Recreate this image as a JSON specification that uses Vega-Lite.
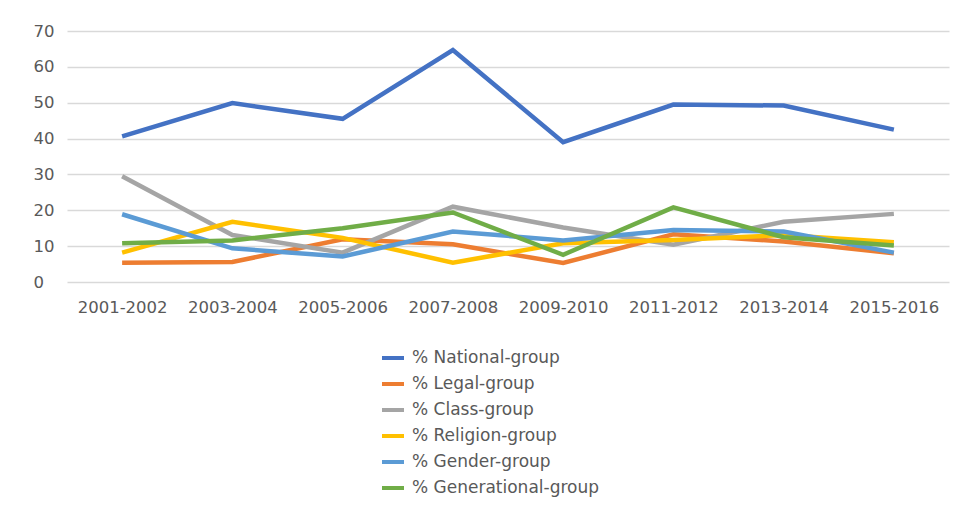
{
  "$schema": "https://vega.github.io/schema/vega-lite/v6.json",
  "autosize": {"type": "none"},
  "padding": {"left": 67, "top": 31, "right": 11, "bottom": 235},
  "width": 882,
  "height": 251,
  "background": "white",
  "config": {
    "view": {"stroke": null},
    "font": "DejaVu Sans",
    "axis": {"labelFont": "DejaVu Sans", "labelColor": "#595959", "labelFontSize": 16.5}
  },
  "data": {"values": [
    {"period": "2001-2002", "series": "% National-group", "value": 40.6},
    {"period": "2003-2004", "series": "% National-group", "value": 49.9},
    {"period": "2005-2006", "series": "% National-group", "value": 45.5},
    {"period": "2007-2008", "series": "% National-group", "value": 64.7},
    {"period": "2009-2010", "series": "% National-group", "value": 39.0},
    {"period": "2011-2012", "series": "% National-group", "value": 49.5},
    {"period": "2013-2014", "series": "% National-group", "value": 49.2},
    {"period": "2015-2016", "series": "% National-group", "value": 42.5},
    {"period": "2001-2002", "series": "% Legal-group", "value": 5.4},
    {"period": "2003-2004", "series": "% Legal-group", "value": 5.6},
    {"period": "2005-2006", "series": "% Legal-group", "value": 11.9},
    {"period": "2007-2008", "series": "% Legal-group", "value": 10.5},
    {"period": "2009-2010", "series": "% Legal-group", "value": 5.3},
    {"period": "2011-2012", "series": "% Legal-group", "value": 13.3},
    {"period": "2013-2014", "series": "% Legal-group", "value": 11.3},
    {"period": "2015-2016", "series": "% Legal-group", "value": 8.0},
    {"period": "2001-2002", "series": "% Class-group", "value": 29.5},
    {"period": "2003-2004", "series": "% Class-group", "value": 13.1},
    {"period": "2005-2006", "series": "% Class-group", "value": 8.2},
    {"period": "2007-2008", "series": "% Class-group", "value": 21.0},
    {"period": "2009-2010", "series": "% Class-group", "value": 15.2},
    {"period": "2011-2012", "series": "% Class-group", "value": 10.4},
    {"period": "2013-2014", "series": "% Class-group", "value": 16.8},
    {"period": "2015-2016", "series": "% Class-group", "value": 19.0},
    {"period": "2001-2002", "series": "% Religion-group", "value": 8.2},
    {"period": "2003-2004", "series": "% Religion-group", "value": 16.8},
    {"period": "2005-2006", "series": "% Religion-group", "value": 12.3},
    {"period": "2007-2008", "series": "% Religion-group", "value": 5.4},
    {"period": "2009-2010", "series": "% Religion-group", "value": 10.8},
    {"period": "2011-2012", "series": "% Religion-group", "value": 11.7},
    {"period": "2013-2014", "series": "% Religion-group", "value": 13.1},
    {"period": "2015-2016", "series": "% Religion-group", "value": 11.1},
    {"period": "2001-2002", "series": "% Gender-group", "value": 18.9},
    {"period": "2003-2004", "series": "% Gender-group", "value": 9.4},
    {"period": "2005-2006", "series": "% Gender-group", "value": 7.1},
    {"period": "2007-2008", "series": "% Gender-group", "value": 14.1},
    {"period": "2009-2010", "series": "% Gender-group", "value": 11.6},
    {"period": "2011-2012", "series": "% Gender-group", "value": 14.5},
    {"period": "2013-2014", "series": "% Gender-group", "value": 14.1},
    {"period": "2015-2016", "series": "% Gender-group", "value": 8.2},
    {"period": "2001-2002", "series": "% Generational-group", "value": 10.8},
    {"period": "2003-2004", "series": "% Generational-group", "value": 11.6},
    {"period": "2005-2006", "series": "% Generational-group", "value": 15.0},
    {"period": "2007-2008", "series": "% Generational-group", "value": 19.4},
    {"period": "2009-2010", "series": "% Generational-group", "value": 7.6},
    {"period": "2011-2012", "series": "% Generational-group", "value": 20.8},
    {"period": "2013-2014", "series": "% Generational-group", "value": 12.5},
    {"period": "2015-2016", "series": "% Generational-group", "value": 10.2}
  ]},
  "mark": {"type": "line", "strokeWidth": 4.5, "strokeCap": "butt", "strokeJoin": "miter", "clip": false},
  "encoding": {
    "x": {
      "field": "period", "type": "nominal", "sort": null,
      "scale": {"type": "point", "padding": 0.5},
      "axis": {"title": null, "labelAngle": 0, "domain": false, "ticks": false, "grid": false, "labelPadding": 17}
    },
    "y": {
      "field": "value", "type": "quantitative",
      "scale": {"domain": [0, 70], "nice": false, "zero": true},
      "axis": {"title": null, "values": [0, 10, 20, 30, 40, 50, 60, 70], "domain": false, "ticks": false, "grid": true, "gridColor": "#D9D9D9", "gridWidth": 1.5, "labelAlign": "left", "labelPadding": 34, "labelBaseline": "middle"}
    },
    "color": {
      "field": "series", "type": "nominal",
      "scale": {
        "domain": ["% National-group", "% Legal-group", "% Class-group", "% Religion-group", "% Gender-group", "% Generational-group"],
        "range": ["#4472C4", "#ED7D31", "#A5A5A5", "#FFC000", "#5B9BD5", "#70AD47"]
      },
      "legend": {
        "title": null, "orient": "none", "legendX": 313, "legendY": 314,
        "direction": "vertical", "symbolType": "stroke", "symbolSize": 484, "symbolStrokeWidth": 4,
        "labelFont": "DejaVu Sans", "labelFontSize": 17, "labelColor": "#595959", "labelOffset": 6,
        "labelLimit": 0, "rowPadding": 5, "padding": 0
      }
    }
  }
}
